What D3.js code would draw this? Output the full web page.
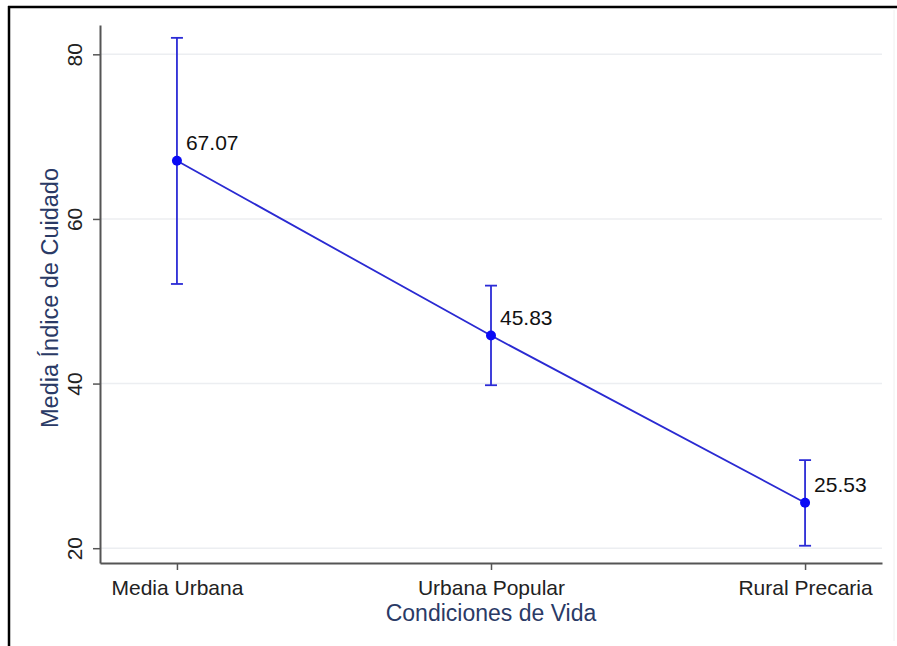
<!DOCTYPE html>
<html>
<head>
<meta charset="utf-8">
<script src="https://cdn.jsdelivr.net/npm/d3@7"></script>
<style>
  body { margin: 0; background: #fff; }
  text { font-family: "Liberation Sans", Arial, Helvetica, sans-serif; }
</style>
</head>
<body>
<div id="chart"></div>
<script>
// data
var categories = ["Media Urbana", "Urbana Popular", "Rural Precaria"];
var means = [67.07, 45.83, 25.53];
var upper = [82.0, 51.9, 30.7];
var lower = [52.1, 39.8, 20.3];
var meanLabels = ["67.07", "45.83", "25.53"];
var yTicks = [20, 40, 60, 80];

var W = 897, H = 646;
var margin = {top: 25, right: 15, bottom: 83, left: 100},
    width = 882 - margin.left,
    height = 563 - margin.top;

var svg = d3.select("#chart")
  .append("svg")
    .attr("width", W)
    .attr("height", H);

// outer frame (top and left edges)
svg.append("line").attr("x1", 8).attr("x2", W).attr("y1", 7).attr("y2", 7)
  .style("stroke", "#000").style("stroke-width", 2.5);
svg.append("line").attr("x1", 9).attr("x2", 9).attr("y1", 6).attr("y2", H)
  .style("stroke", "#000").style("stroke-width", 2.5);
svg.append("line").attr("x1", 894).attr("x2", 894).attr("y1", 10).attr("y2", H - 5)
  .style("stroke", "#f0f0f0").style("stroke-width", 1);

var g = svg.append("g")
  .attr("transform", "translate(" + margin.left + "," + margin.top + ")");

var x = d3.scalePoint()
  .domain(categories)
  .range([0, width])
  .padding(0.245);

var y = d3.scaleLinear()
  .domain([20 - 14.8 / 8.233, 20 + (548.3 - 25) / 8.233])
  .range([height, 0]);

// gridlines
g.selectAll(".grid")
  .data(yTicks)
  .enter()
  .append("line")
    .attr("x1", 0)
    .attr("x2", width)
    .attr("y1", function(d) { return y(d); })
    .attr("y2", function(d) { return y(d); })
    .style("stroke", "#eceef1")
    .style("stroke-width", 1.5);

// Y axis
var yAxis = g.append("g")
  .call(d3.axisLeft(y).tickValues(yTicks).tickSize(7).tickSizeOuter(0).tickPadding(4));
yAxis.select(".domain").style("stroke", "#555").style("stroke-width", 2);
yAxis.selectAll(".tick line").style("stroke", "#555").style("stroke-width", 1.5);
yAxis.selectAll(".tick text")
  .attr("transform", "rotate(-90)")
  .attr("x", 0)
  .attr("y", -18)
  .attr("dy", 0)
  .style("text-anchor", "middle")
  .style("font-size", "21px")
  .style("fill", "#222");

// X axis
var xAxis = g.append("g")
  .attr("transform", "translate(0," + height + ")")
  .call(d3.axisBottom(x).tickSize(7).tickSizeOuter(0).tickPadding(10));
xAxis.select(".domain").style("stroke", "#555").style("stroke-width", 2);
xAxis.selectAll(".tick line").style("stroke", "#555").style("stroke-width", 1.5);
xAxis.selectAll(".tick text")
  .style("font-size", "21px")
  .style("fill", "#222");

// error bars
var rows = categories.map(function(c, i) {
  return {cat: c, mean: means[i], hi: upper[i], lo: lower[i], label: meanLabels[i]};
});

var bars = g.append("g").selectAll(".err")
  .data(rows)
  .enter()
  .append("g");
bars.append("line")
  .attr("x1", function(d) { return x(d.cat); })
  .attr("x2", function(d) { return x(d.cat); })
  .attr("y1", function(d) { return y(d.hi); })
  .attr("y2", function(d) { return y(d.lo); })
  .style("stroke", "#2b2bd6").style("stroke-width", 1.8);
bars.selectAll(".cap")
  .data(function(d) { return [{cat: d.cat, v: d.hi}, {cat: d.cat, v: d.lo}]; })
  .enter()
  .append("line")
    .attr("x1", function(d) { return x(d.cat) - 6; })
    .attr("x2", function(d) { return x(d.cat) + 6; })
    .attr("y1", function(d) { return y(d.v); })
    .attr("y2", function(d) { return y(d.v); })
    .style("stroke", "#2b2bd6").style("stroke-width", 1.8);

// connecting line
g.append("path")
  .datum(rows)
  .attr("d", d3.line()
    .x(function(d) { return x(d.cat); })
    .y(function(d) { return y(d.mean); }))
  .style("fill", "none")
  .style("stroke", "#2a2ad2")
  .style("stroke-width", 1.8);

// points
g.selectAll(".pt")
  .data(rows)
  .enter()
  .append("circle")
    .attr("cx", function(d) { return x(d.cat); })
    .attr("cy", function(d) { return y(d.mean); })
    .attr("r", 5)
    .style("fill", "#0a0af5");

// value labels
g.selectAll(".lbl")
  .data(rows)
  .enter()
  .append("text")
    .attr("x", function(d) { return x(d.cat) + 9; })
    .attr("y", function(d) { return y(d.mean) - 11; })
    .text(function(d) { return d.label; })
    .style("font-size", "21px")
    .style("fill", "#111");

// axis titles
svg.append("text")
  .attr("transform", "rotate(-90)")
  .attr("x", -(margin.top + height / 2 + 4))
  .attr("y", 58)
  .style("text-anchor", "middle")
  .style("font-size", "23.5px")
  .style("fill", "#2a3a66")
  .text("Media Índice de Cuidado");

svg.append("text")
  .attr("x", margin.left + x("Urbana Popular"))
  .attr("y", 621)
  .style("text-anchor", "middle")
  .style("font-size", "23px")
  .style("fill", "#2a3a66")
  .text("Condiciones de Vida");
</script>
</body>
</html>
